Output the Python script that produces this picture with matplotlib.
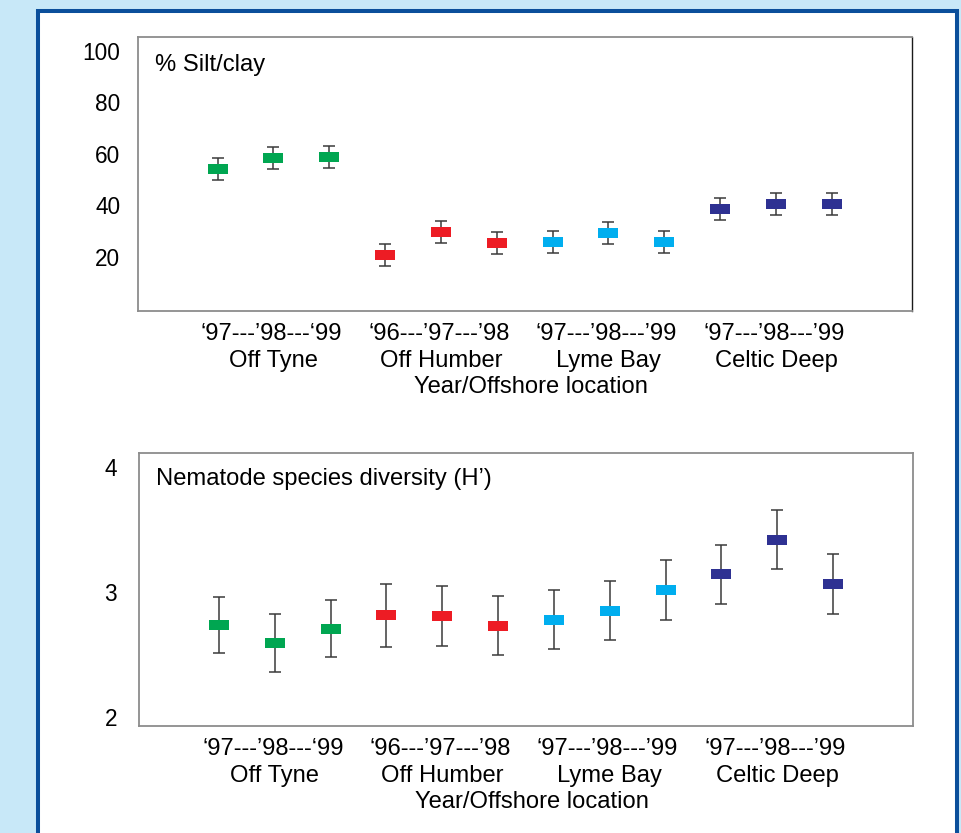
import matplotlib
matplotlib.use("Agg")
import matplotlib.pyplot as plt
from matplotlib.patches import Rectangle
import numpy as np

# ---------------- data ----------------
positions = [1, 2, 3, 4, 5, 6, 7, 8, 9, 10, 11, 12]
group_colors = ["#00a651"] * 3 + ["#ed1c24"] * 3 + ["#00aeef"] * 3 + ["#2e3192"] * 3

silt_mean = [54.0, 58.5, 58.6, 20.6, 29.7, 25.3, 25.7, 29.2, 25.7, 38.5, 40.5, 40.5]
silt_err = [4.3, 4.3, 4.3, 4.3, 4.3, 4.3, 4.3, 4.3, 4.3, 4.3, 4.3, 4.3]

div_mean = [2.735, 2.591, 2.703, 2.811, 2.806, 2.727, 2.774, 2.846, 3.012, 3.139, 3.416, 3.060]
div_err = [0.224, 0.232, 0.228, 0.250, 0.238, 0.236, 0.236, 0.236, 0.238, 0.238, 0.236, 0.238]

group_centers = [2, 5, 8, 11]
locations = ["Off Tyne", "Off Humber", "Lyme Bay", "Celtic Deep"]
years_top = ["\u201897---\u201998---\u201899", "\u201896---\u201997---\u201998",
             "\u201897---\u201998---\u201999", "\u201897---\u201998---\u201999"]
years_bottom = ["\u201897---\u201998---\u201899", "\u201896---\u201997---\u201998",
                "\u201897---\u201998---\u201999", "\u201897---\u201998---\u201999"]

silt_ticks = [20, 40, 60, 80, 100]
div_ticks = [2, 3, 4]

xlabel = "Year/Offshore location"
title_top = "% Silt/clay"
title_bottom = "Nematode species diversity (H\u2019)"

# ---------------- style ----------------
plt.rcParams["font.family"] = ["Liberation Sans", "DejaVu Sans"]
FS_TICK = 16.3
FS = 17.1
W, H = 961, 833
fig = plt.figure(figsize=(W / 100, H / 100), dpi=100)
fig.patch.set_facecolor("#c8e8f8")

# white panel with dark blue border
panel = Rectangle((38 / W, -0.05), (956.5 - 38) / W, 1.05 - 11.3 / H,
                  transform=fig.transFigure, facecolor="white",
                  edgecolor="#0b4f9b", linewidth=2.9, zorder=-5)
fig.patches.append(panel)

rect_marker = [(-1, -0.5), (1, -0.5), (1, 0.5), (-1, 0.5), (-1, -0.5)]


def draw(ax, means, errs, ylim, yticks, title, title_y, years, ypad):
    ax.errorbar(positions, means, yerr=errs, fmt="none", ecolor="#3a3a3a",
                elinewidth=1.1, capsize=4.3, capthick=1.1, zorder=2)
    for x, m, c in zip(positions, means, group_colors):
        ax.plot([x], [m], linestyle="none", marker=rect_marker, markersize=15.0,
                markerfacecolor=c, markeredgewidth=0, zorder=3)
    ax.set_xlim(-0.43, 13.43)
    ax.set_ylim(*ylim)
    ax.set_yticks(yticks)
    ax.set_yticklabels([str(t) for t in yticks], fontsize=FS_TICK)
    ax.tick_params(axis="y", length=0, pad=ypad)
    ax.set_xticks([])
    for s in ["left", "top", "bottom", "right"]:
        ax.spines[s].set_color("#8c8c8c")
        ax.spines[s].set_linewidth(1.3)
    ax.text(0.022, title_y, title, transform=ax.transAxes, fontsize=FS,
            ha="left", va="center")
    for gx, yr, loc in zip(group_centers, years, locations):
        ax.annotate(yr, xy=(gx, 0), xycoords=("data", "axes fraction"),
                    xytext=(-1.5, -16.3), textcoords="offset points",
                    ha="center", va="center", fontsize=FS)
        ax.annotate(loc, xy=(gx, 0), xycoords=("data", "axes fraction"),
                    xytext=(0, -35.7), textcoords="offset points",
                    ha="center", va="center", fontsize=FS)
    ax.annotate(xlabel, xy=(0.5, 0), xycoords="axes fraction",
                xytext=(4.5, -54.8), textcoords="offset points",
                ha="center", va="center", fontsize=FS)


ax1 = fig.add_axes([137.7 / W, 1 - 311 / H, (911.7 - 137.7) / W, (311 - 36.7) / H])
draw(ax1, silt_mean, silt_err, (-1.2, 105.6), silt_ticks, title_top, 0.898,
     years_top, 12.5)
ax1.spines["right"].set_color("#1a1a1a")
ax1.spines["right"].set_linewidth(1.0)

ax2 = fig.add_axes([139.3 / W, 1 - 726 / H, (912.7 - 139.3) / W, (726 - 453.3) / H])
draw(ax2, div_mean, div_err, (1.926, 4.107), div_ticks, title_bottom, 0.906,
     years_bottom, 16)

fig.savefig("out.png", dpi=100, facecolor=fig.get_facecolor())
